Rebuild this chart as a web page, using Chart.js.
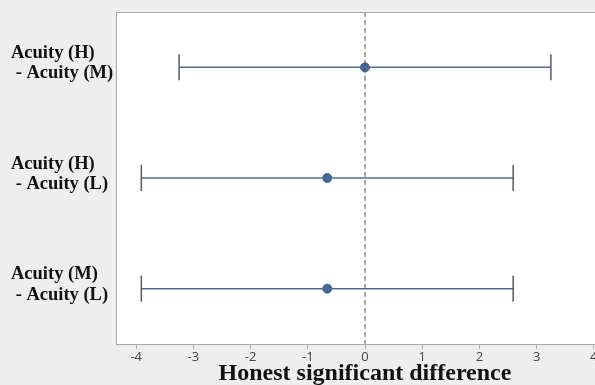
<!DOCTYPE html>
<html>
<head>
<meta charset="utf-8">
<script src="https://cdn.jsdelivr.net/npm/chart.js@4/dist/chart.umd.min.js"></script>
<style>
  html, body { margin: 0; padding: 0; overflow: hidden; background: #eeeeee; }
  #wrap { width: 595px; height: 385px; overflow: hidden; }
</style>
</head>
<body>
<div id="wrap"><canvas id="hsd_chart" width="616" height="385"></canvas></div>
<script>
const categories = [
    ['Acuity (H)', ' - Acuity (M)'],
    ['Acuity (H)', ' - Acuity (L)'],
    ['Acuity (M)', ' - Acuity (L)']
];
const diffs = [0, -0.66, -0.66];
const lowers = [-3.25, -3.91, -3.91];
const uppers = [3.25, 2.59, 2.59];
const xTicks = [-4, -3, -2, -1, 0, 1, 2, 3, 4];

const canvas = document.getElementById('hsd_chart');

// gray page, white plot area with a thin frame
const frame = {
    id: 'frame',
    beforeDraw(chart) {
        const ctx = chart.ctx;
        const a = chart.chartArea;
        ctx.save();
        ctx.fillStyle = '#eeeeee';
        ctx.fillRect(0, 0, chart.width, chart.height);
        ctx.fillStyle = '#ffffff';
        ctx.fillRect(a.left, a.top, a.right - a.left, a.bottom - a.top);
        ctx.restore();
    },
    afterDraw(chart) {
        const ctx = chart.ctx;
        const a = chart.chartArea;
        ctx.save();
        ctx.strokeStyle = '#a8a8a8';
        ctx.lineWidth = 1;
        ctx.strokeRect(a.left + 0.5, a.top + 0.5, a.right - a.left, a.bottom - a.top);
        ctx.restore();
    }
};

const datasets = [];

// dashed reference line at zero
datasets.push({
    type: 'line',
    data: [{x: 0, y: -0.5}, {x: 0, y: 2.5}],
    borderColor: '#555555',
    borderWidth: 1,
    borderDash: [5, 3],
    pointRadius: 0
});

// intervals with end caps
categories.forEach((c, i) => {
    datasets.push({
        type: 'line',
        data: [{x: lowers[i], y: i}, {x: uppers[i], y: i}],
        borderColor: '#4a6e98',
        borderWidth: 1.5,
        pointStyle: 'line',
        pointRotation: 90,
        pointRadius: 13,
        pointBorderColor: '#5a5a5a',
        pointBorderWidth: 1.5
    });
});

// estimated differences
datasets.push({
    type: 'scatter',
    data: diffs.map((d, i) => ({x: d, y: i})),
    backgroundColor: '#41669a',
    borderColor: '#41669a',
    pointRadius: 4.5
});

new Chart(canvas, {
    data: { datasets: datasets },
    plugins: [frame],
    options: {
        responsive: false,
        animation: false,
        layout: { autoPadding: false, padding: { top: 12, left: 11, right: 2, bottom: 0 } },
        plugins: { legend: { display: false }, tooltip: { enabled: false } },
        scales: {
            x: {
                type: 'linear',
                min: -4.353,
                max: 4.353,
                afterBuildTicks: (scale) => { scale.ticks = xTicks.map(v => ({value: v})); },
                afterFit: (scale) => {
                    scale.height = 41;
                    scale.paddingLeft = 0;
                    scale.paddingRight = 0;
                },
                grid: { drawOnChartArea: false, tickLength: 5, color: '#b0b0b0' },
                border: { display: false },
                ticks: {
                    padding: 0,
                    color: '#444444',
                    font: { family: 'Open Sans', size: 13 }
                },
                title: {
                    display: true,
                    text: 'Honest significant difference',
                    color: '#111111',
                    padding: { top: 0, bottom: 0 },
                    font: { family: 'Liberation Serif', size: 24, weight: 'bold', lineHeight: 0.95 }
                }
            },
            y: {
                type: 'linear',
                min: -0.5,
                max: 2.5,
                reverse: true,
                afterBuildTicks: (scale) => { scale.ticks = categories.map((c, i) => ({value: i})); },
                afterFit: (scale) => {
                    scale.width = 105;
                    scale.paddingTop = 0;
                    scale.paddingBottom = 0;
                },
                grid: { display: false },
                border: { display: false },
                ticks: {
                    crossAlign: 'far',
                    labelOffset: -4,
                    color: '#111111',
                    font: { family: 'Liberation Serif', size: 18.5, weight: 'bold', lineHeight: 1.1 },
                    callback: (v) => categories[v]
                }
            }
        }
    }
});
</script>
</body>
</html>
